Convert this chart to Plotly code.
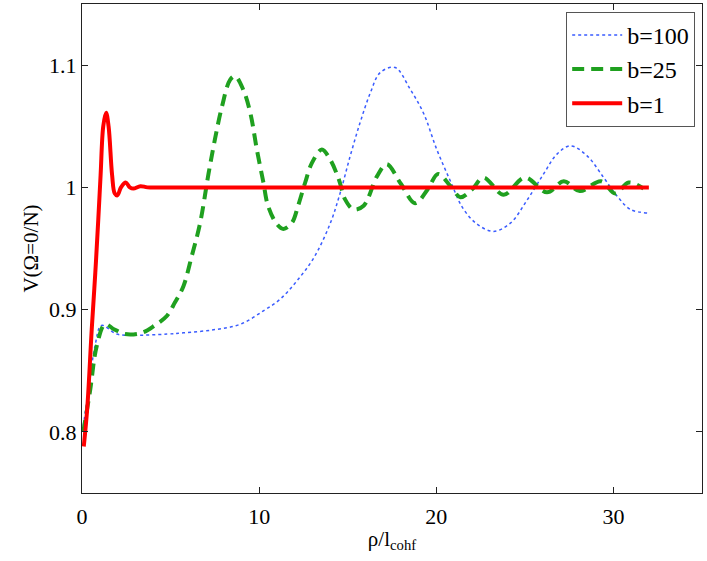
import plotly.graph_objects as go

# b=1 (solid red)
x_b1 = [0.1, 0.3, 0.55, 0.75, 0.92, 1.05, 1.2, 1.36, 1.5, 1.7, 1.85, 2.0, 2.2,
        2.47, 2.7, 2.9, 3.3, 3.7, 5, 10, 15, 20, 25, 30, 32]
y_b1 = [0.788, 0.82, 0.884, 0.93, 0.974, 1.01, 1.05, 1.061, 1.05, 1.01, 0.995,
        0.9935, 1.0, 1.004, 1.0, 0.999, 1.001, 1.0, 1.0, 1.0, 1.0, 1.0, 1.0, 1.0, 1.0]

# b=25 (dashed green)
x_b25 = [0.07, 0.45, 0.83, 1.3, 1.8, 2.43, 3.37, 4.1, 4.8, 5.25, 5.72, 6.2, 6.67,
         7.14, 7.5, 7.9, 8.36, 8.64, 9.1, 9.5, 9.87, 10.24, 10.5, 11.0, 11.37,
         11.85, 12.2, 12.6, 12.98, 13.54, 14.0, 14.5, 14.86, 15.33, 15.9, 16.65,
         17.2, 18.0, 18.8, 19.5, 20.1, 20.8, 21.36, 22.0, 22.67, 23.8, 25.0,
         26.25, 27.2, 28.1, 29.3, 30.1, 30.86, 31.7]
y_b25 = [0.80, 0.833, 0.870, 0.888, 0.884, 0.880, 0.881, 0.887, 0.895, 0.906,
         0.919, 0.944, 0.971, 1.011, 1.039, 1.066, 1.088, 1.091, 1.080, 1.061,
         1.031, 1.004, 0.985, 0.970, 0.966, 0.971, 0.985, 1.004, 1.020, 1.031,
         1.023, 1.0065, 0.990, 0.982, 0.985, 1.009, 1.019, 1.003, 0.987, 0.998,
         1.011, 1.001, 0.992, 0.998, 1.008, 0.994, 1.008, 0.996, 1.005, 0.997,
         1.005, 0.995, 1.004, 0.999]

# b=100 (dotted blue)
x_b100 = [0.07, 0.36, 0.73, 1.1, 1.96, 2.9, 4.8, 5.72, 7.42, 8.93, 10.24, 11.19,
          12.13, 13.07, 14.0, 14.58, 15.14, 15.7, 16.27, 16.84, 17.68, 18.5, 19.3,
          20.0, 20.8, 21.5, 22.3, 23.24, 24.2, 25.1, 26.06, 26.8, 27.57, 28.5,
          29.45, 30.2, 30.96, 31.9]
y_b100 = [0.805, 0.833, 0.870, 0.887, 0.880, 0.879, 0.880, 0.881, 0.8835, 0.888,
          0.899, 0.9086, 0.9235, 0.942, 0.970, 0.9957, 1.0256, 1.053, 1.077, 1.094,
          1.098, 1.081, 1.060, 1.032, 1.005, 0.983, 0.970, 0.964, 0.971, 0.989,
          1.011, 1.027, 1.034, 1.026, 1.008, 0.993, 0.982, 0.979]

y_ticks = [0.8, 0.9, 1.0, 1.1]
y_tick_labels = ["0.8", "0.9", "1", "1.1"]
x_ticks = [0, 10, 20, 30]

fig = go.Figure()
fig.add_trace(go.Scatter(x=x_b100, y=y_b100, mode="lines", name="b=100",
                         line=dict(color="#3a5cff", width=1.5, dash="dot", shape="spline")))
fig.add_trace(go.Scatter(x=x_b25, y=y_b25, mode="lines", name="b=25",
                         line=dict(color="#1fa01f", width=4, dash="12px,7px", shape="spline")))
fig.add_trace(go.Scatter(x=x_b1, y=y_b1, mode="lines", name="b=1",
                         line=dict(color="red", width=4, shape="spline")))

serif = "Liberation Serif"
font = dict(family=serif, size=21, color="black")
axis = dict(showline=True, linecolor="#222", linewidth=1, mirror="allticks",
            ticks="inside", ticklen=6, tickcolor="#222", showgrid=False,
            zeroline=False, tickfont=dict(family=serif, size=22, color="black"),
            automargin=False)

fig.update_layout(
    width=707, height=561,
    margin=dict(l=82, r=5, t=4, b=68, autoexpand=False),
    plot_bgcolor="white", paper_bgcolor="white",
    font=font,
    showlegend=True,
    legend=dict(x=0.989, y=0.984, xanchor="right", yanchor="top",
                bordercolor="#555", borderwidth=1, bgcolor="white",
                itemwidth=50, tracegroupgap=0,
                font=dict(family=serif, size=24, color="black")),
)
fig.update_xaxes(axis, range=[0, 35], tickvals=x_ticks, ticklabelstandoff=4,
                 title=dict(text="ρ/l<sub>cohf</sub>", font=font, standoff=2))
fig.update_yaxes(axis, range=[0.75, 1.15], tickvals=y_ticks, ticktext=y_tick_labels,
                 title=dict(text="V(Ω=0/N)", font=font, standoff=4))

# the page's default body margin would push the figure 8px right and down
fig.write_html("out.html", config={"displayModeBar": False},
               post_script="document.body.style.margin='0px';")
